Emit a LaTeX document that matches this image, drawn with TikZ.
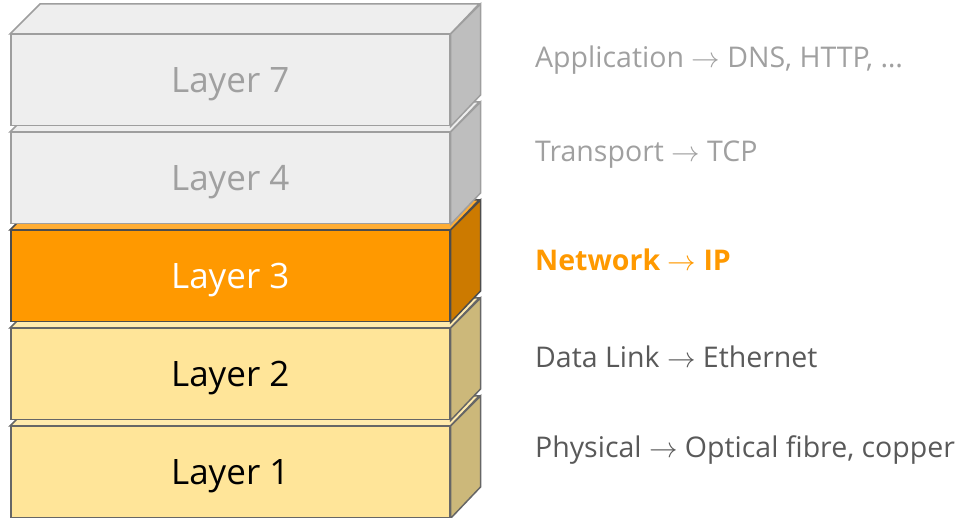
\documentclass[tikz,border=0pt]{standalone}
\usepackage{fontspec}
\setmainfont{Open Sans}

% face colours for the three kinds of layer box
\definecolor{greyfront}{HTML}{EEEEEE}
\definecolor{greyside}{HTML}{BEBEBE}
\definecolor{greytop}{HTML}{EEEEEE}
\definecolor{greyedge}{HTML}{9E9E9E}
\definecolor{orangefront}{HTML}{FF9900}
\definecolor{orangeside}{HTML}{CC7A00}
\definecolor{orangetop}{HTML}{FFAD33}
\definecolor{orangeedge}{HTML}{4D4D4D}
\definecolor{yellowfront}{HTML}{FFE599}
\definecolor{yellowside}{HTML}{CCB87A}
\definecolor{yellowtop}{HTML}{FFEAAD}
\definecolor{yellowedge}{HTML}{666666}
% label colours
\definecolor{labelgrey}{HTML}{A0A0A0}
\definecolor{labeldark}{HTML}{595959}
\definecolor{labelorange}{HTML}{FF9900}

% the maths arrow, set at 10pt and enlarged to the label size
\newcommand\arr{\scalebox{2.85}{\fontsize{10}{10}\selectfont$\rightarrow$}}

\tikzset{
  front/.style={draw=#1edge, fill=#1front, line width=1.5pt, inner sep=0pt,
    minimum width=439pt, minimum height=91pt, anchor=north west,
    text height=25pt, text depth=0pt,
    font=\fontsize{35}{35}\selectfont},
  sideface/.style={draw=#1edge, fill=#1side, line width=1.5pt},
  topface/.style={draw=#1edge, fill=#1top, line width=1.5pt},
  desc/.style={anchor=base west, inner sep=0pt, font=\fontsize{28.5}{28.5}\selectfont},
}

% #1 node name, #2 top of front face, #3 colour scheme, #4 text colour, #5 text
\newcommand\layerbox[5]{%
  \node[front=#3, text=#4] (#1) at (10,#2) {#5};
  \draw[topface=#3] (#1.north west) -- ++(30,-30) -- ++(439,0) -- (#1.north east) -- cycle;
  \draw[sideface=#3] (#1.north east) -- ++(30,-30) -- ++(0,91) -- (#1.south east) -- cycle;
}

\begin{document}
\begin{tikzpicture}[x=1pt, y=-1pt]
  \useasboundingbox (0,0) rectangle (959,518);

  % the stack, drawn from the bottom up so each box hides the one below
  \layerbox{l1}{426}{yellow}{black}{Layer 1}
  \layerbox{l2}{328}{yellow}{black}{Layer 2}
  \layerbox{l3}{230}{orange}{white}{Layer 3}
  \layerbox{l4}{132}{grey}{labelgrey}{Layer 4}
  \layerbox{l7}{34}{grey}{labelgrey}{Layer 7}

  % protocol descriptions beside each layer
  \node[desc, text=labelgrey] (d7) at (535,68) {Application \arr{} DNS, HTTP, …};
  \node[desc, text=labelgrey] (d4) at (535,162) {Transport \arr{} TCP};
  \node[desc, text=labelorange, font=\fontsize{28.5}{28.5}\selectfont\bfseries] (d3) at (535,271) {Network \arr{} IP};
  \node[desc, text=labeldark] (d2) at (535,368) {Data Link \arr{} Ethernet};
  \node[desc, text=labeldark] (d1) at (535,458) {Physical \arr{} Optical fibre, copper};
\end{tikzpicture}
\end{document}
